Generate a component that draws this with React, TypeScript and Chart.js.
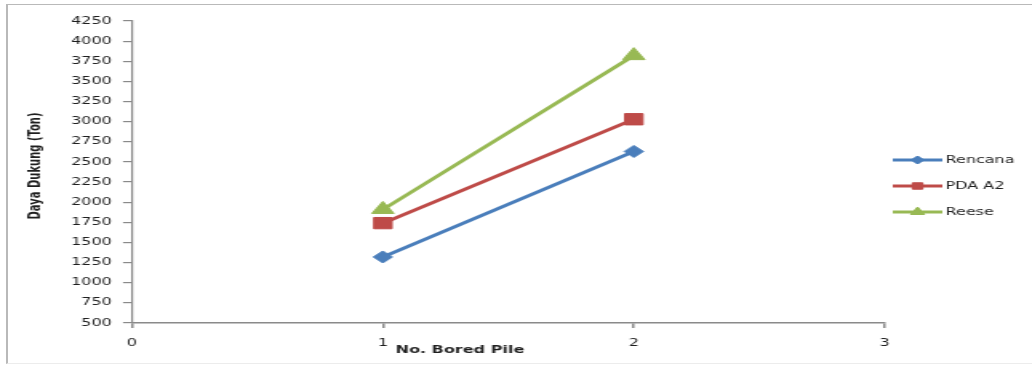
import React, { useEffect, useRef } from "react";
import { Chart, registerables } from "chart.js";
import { drawPoint } from "chart.js/helpers";

Chart.register(...registerables);

// Bearing capacity per bored pile
const piles = [1, 2];
const rencana = [1320, 2630];
const pdaA2 = [1740, 3030];
const reese = [1910, 3820];

const seriesNames = ["Rencana", "PDA A2", "Reese"];
const seriesColors = ["#4A7EBB", "#BE4B48", "#98B954"];
const seriesMarkers = ["rectRot", "rect", "triangle"];
const markerSizes = [6, 8, 8];
const legendMarkerSizes = [4, 4.5, 5];

const yTitle = "Daya Dukung (Ton)";
const xTitle = "No. Bored Pile";

// The chart is laid out on a narrow canvas and widened with CSS.
const STRETCH = 1.6;
const CANVAS_W = 645;
const CANVAS_H = 365;
const FONT = '"DejaVu Sans", sans-serif';

const titlesAndLegend = {
  id: "titlesAndLegend",
  afterDraw(chart: any) {
    const { ctx, chartArea } = chart;
    ctx.save();
    ctx.fillStyle = "#1f1f1f";
    ctx.font = `bold 10px ${FONT}`;
    ctx.textAlign = "center";
    ctx.textBaseline = "middle";

    // axis titles
    ctx.save();
    ctx.translate(22, chartArea.top + 145);
    ctx.rotate(-Math.PI / 2);
    ctx.fillText(yTitle, 0, 0);
    ctx.restore();
    ctx.fillText(xTitle, chartArea.left + 205, chartArea.bottom + 27);

    // legend: line sample with marker, then the name
    const lx = chartArea.right + 5;
    ctx.font = `10px ${FONT}`;
    ctx.textAlign = "left";
    chart.data.datasets.forEach((ds: any, i: number) => {
      const y = 160 + i * 26;
      ctx.strokeStyle = seriesColors[i];
      ctx.lineWidth = 3;
      ctx.beginPath();
      ctx.moveTo(lx, y);
      ctx.lineTo(lx + 31, y);
      ctx.stroke();
      ctx.fillStyle = seriesColors[i];
      ctx.lineWidth = 1;
      drawPoint(ctx, { pointStyle: seriesMarkers[i], radius: legendMarkerSizes[i], rotation: 0, borderWidth: 1 }, lx + 15.5, y);
      ctx.fill();
      ctx.fillStyle = "#1f1f1f";
      ctx.fillText(ds.label, lx + 33, y + 0.5);
    });
    ctx.restore();
  },
};

export default function App() {
  const canvasRef = useRef<HTMLCanvasElement | null>(null);

  useEffect(() => {
    if (!canvasRef.current) return;
    const seriesValues = [rencana, pdaA2, reese];
    const chart = new Chart(canvasRef.current, {
      type: "line",
      data: {
        datasets: seriesValues.map((vals, i) => ({
          label: seriesNames[i],
          data: piles.map((p, j) => ({ x: p, y: vals[j] })),
          borderColor: seriesColors[i],
          backgroundColor: seriesColors[i],
          borderWidth: 3,
          pointStyle: seriesMarkers[i] as any,
          pointRadius: markerSizes[i],
          pointBorderWidth: 1,
          pointBorderColor: seriesColors[i],
          pointBackgroundColor: seriesColors[i],
          tension: 0,
        })),
      },
      options: {
        responsive: false,
        animation: false,
        devicePixelRatio: 1,
        layout: { padding: { top: 21, right: 92, left: 0, bottom: 0 } },
        font: { family: FONT },
        plugins: {
          legend: { display: false },
          tooltip: { enabled: false },
        },
        scales: {
          x: {
            type: "linear",
            min: 0,
            max: 3,
            afterFit: (s: any) => {
              s.height = 42;
            },
            ticks: {
              stepSize: 1,
              padding: 9,
              color: "#1f1f1f",
              font: { family: FONT, size: 10 },
              callback: (v: any) => String(v),
            },
            grid: {
              display: true,
              drawOnChartArea: false,
              drawTicks: true,
              tickLength: 5,
              color: "#8a8a8a",
              lineWidth: 1.5,
            },
            border: { display: true, color: "#8a8a8a", width: 1.5 },
          },
          y: {
            min: 500,
            max: 4250,
            afterFit: (s: any) => {
              s.width = 82.5;
            },
            ticks: {
              stepSize: 250,
              padding: 7,
              color: "#1f1f1f",
              font: { family: FONT, size: 10 },
              callback: (v: any) => String(v),
            },
            grid: {
              display: true,
              drawOnChartArea: false,
              drawTicks: true,
              tickLength: 5.6,
              color: "#8a8a8a",
              lineWidth: 1.2,
            },
            border: { display: true, color: "#8a8a8a", width: 1.2 },
          },
        },
      },
      plugins: [titlesAndLegend],
    });
    return () => chart.destroy();
  }, []);

  return (
    <div
      style={{
        position: "absolute",
        left: 0,
        top: 0,
        width: 1032,
        height: 365,
        overflow: "hidden",
        background: "#ffffff",
      }}
    >
      <div
        style={{
          position: "absolute",
          left: 6,
          top: 4,
          width: 1024,
          height: 358,
          borderLeft: "2px solid #b9b9b9",
          borderTop: "1px solid #b9b9b9",
          borderBottom: "1px solid #ececec",
        }}
      />
      <div
        style={{
          position: "absolute",
          left: 0,
          top: 0,
          transform: `scaleX(${STRETCH})`,
          transformOrigin: "0 0",
        }}
      >
        <canvas
          ref={canvasRef}
          width={CANVAS_W}
          height={CANVAS_H}
          style={{ display: "block", width: CANVAS_W, height: CANVAS_H }}
        />
      </div>
    </div>
  );
}
